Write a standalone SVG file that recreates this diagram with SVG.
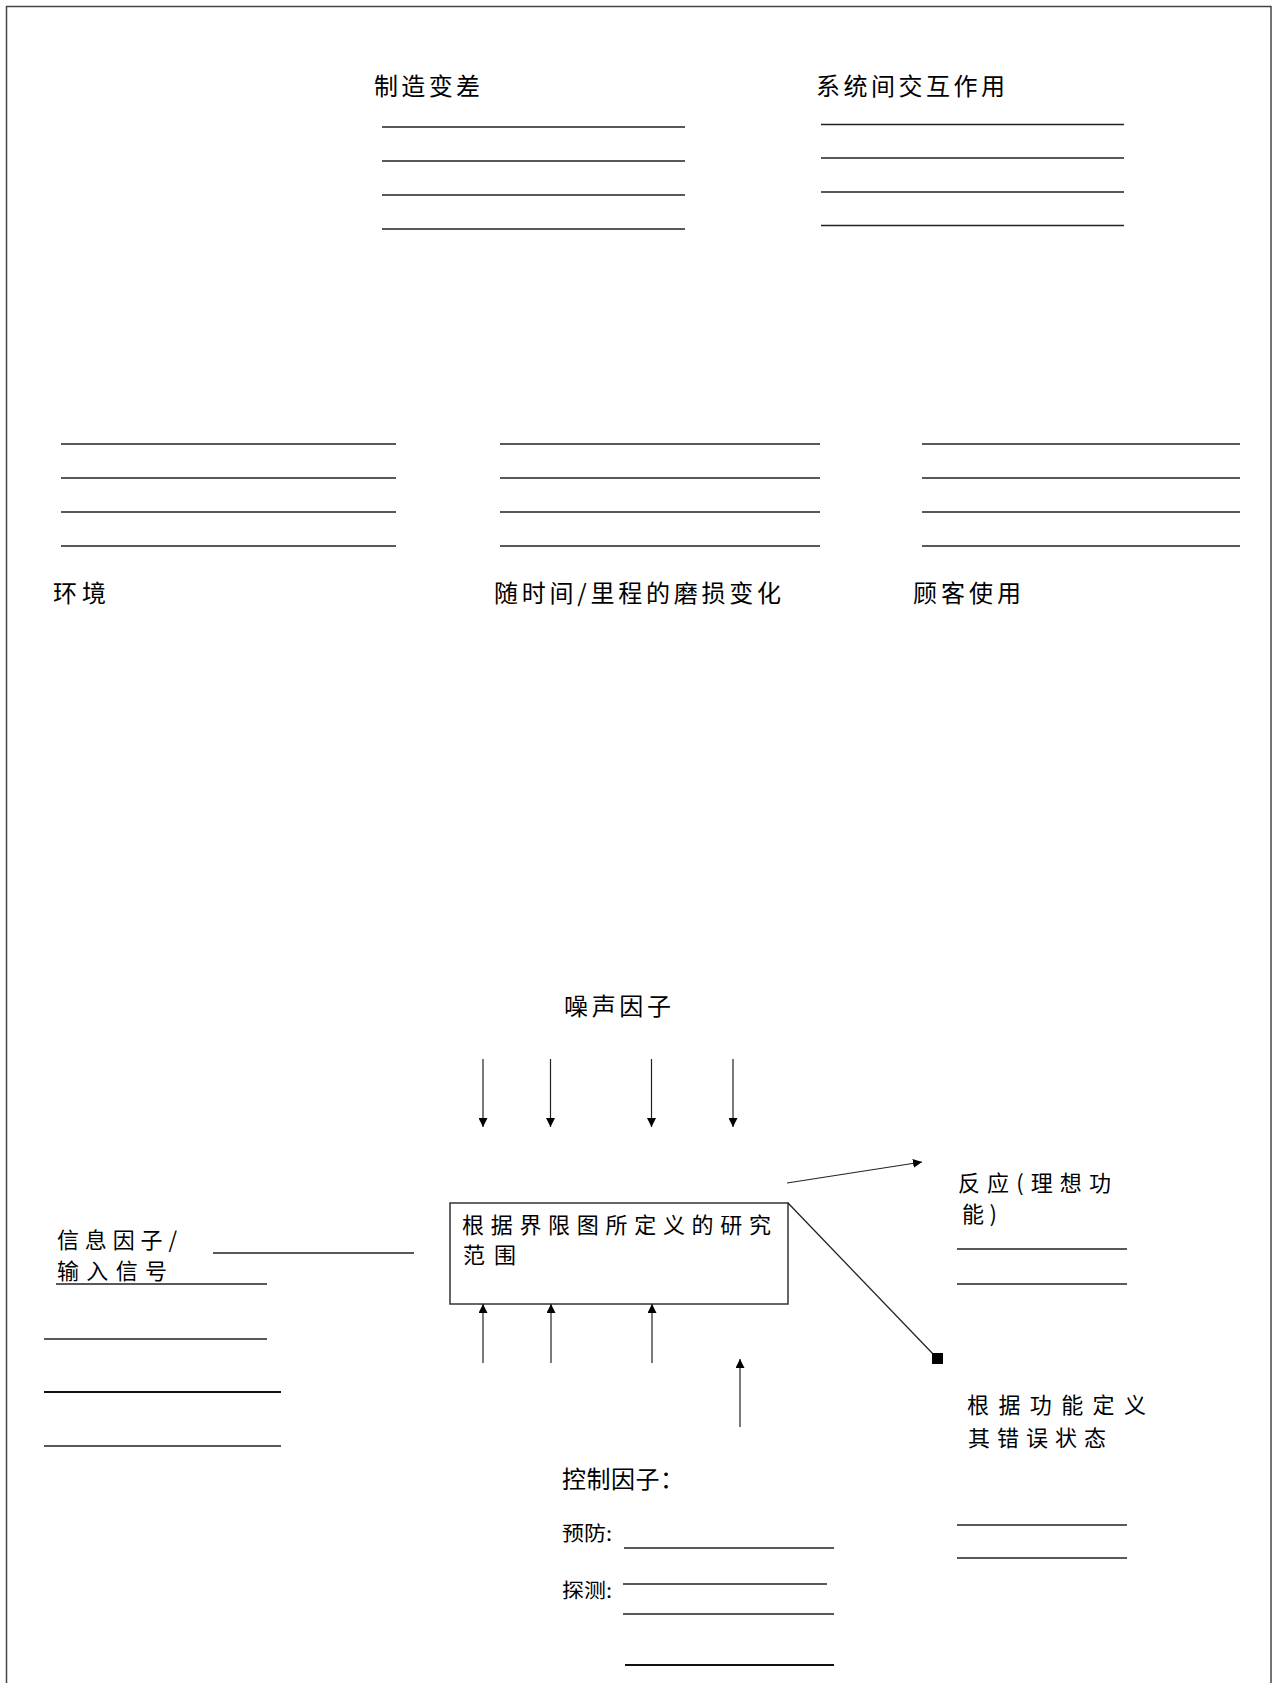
<svg xmlns="http://www.w3.org/2000/svg" width="1274" height="1683" viewBox="0 0 1274 1683">
<style>
.t{font-family:"Noto Sans CJK SC","Noto Sans CJK TC",sans-serif;font-size:24px;fill:#000}
.m{font-family:"Noto Sans CJK SC","Noto Sans CJK TC",sans-serif;font-size:22px;fill:#000}
.s{font-family:"Noto Sans CJK SC",sans-serif;font-size:20px;fill:#000}
.ln{stroke:#222;stroke-width:1.3;fill:none}
.lt{stroke:#111;stroke-width:2;fill:none}
.ar{stroke:#222;stroke-width:1.2;fill:none;marker-end:url(#ah)}
</style>
<defs>
<marker id="ah" viewBox="0 0 10 10" refX="10" refY="5" markerWidth="9" markerHeight="9" markerUnits="userSpaceOnUse" orient="auto">
<path d="M0,0 L10,5 L0,10 z" fill="#000"/>
</marker>
</defs>
<rect x="6.5" y="6.5" width="1264.5" height="1700" fill="none" stroke="#444" stroke-width="1.5"/>

<g id="manufacturing">
<text class="t" x="374" y="95" textLength="106" lengthAdjust="spacing">制造变差</text>
<line class="ln" x1="382" y1="127" x2="685" y2="127"/>
<line class="ln" x1="382" y1="161" x2="685" y2="161"/>
<line class="ln" x1="382" y1="195" x2="685" y2="195"/>
<line class="ln" x1="382" y1="229" x2="685" y2="229"/>
</g>

<g id="system-interaction">
<text class="t" x="816" y="95" textLength="189" lengthAdjust="spacing">系统间交互作用</text>
<line class="ln" x1="821" y1="124.5" x2="1124" y2="124.5"/>
<line class="ln" x1="821" y1="158" x2="1124" y2="158"/>
<line class="ln" x1="821" y1="192" x2="1124" y2="192"/>
<line class="ln" x1="821" y1="225.5" x2="1124" y2="225.5"/>
</g>

<g id="environment">
<line class="ln" x1="61" y1="444" x2="396" y2="444"/>
<line class="ln" x1="61" y1="478" x2="396" y2="478"/>
<line class="ln" x1="61" y1="512" x2="396" y2="512"/>
<line class="ln" x1="61" y1="546" x2="396" y2="546"/>
<text class="t" x="53" y="602" textLength="53" lengthAdjust="spacing">环境</text>
</g>

<g id="wear">
<line class="ln" x1="500" y1="444" x2="820" y2="444"/>
<line class="ln" x1="500" y1="478" x2="820" y2="478"/>
<line class="ln" x1="500" y1="512" x2="820" y2="512"/>
<line class="ln" x1="500" y1="546" x2="820" y2="546"/>
<text class="t" x="494" y="602" textLength="287" lengthAdjust="spacing">随时间/里程的磨损变化</text>
</g>

<g id="customer-use">
<line class="ln" x1="922" y1="444" x2="1240" y2="444"/>
<line class="ln" x1="922" y1="478" x2="1240" y2="478"/>
<line class="ln" x1="922" y1="512" x2="1240" y2="512"/>
<line class="ln" x1="922" y1="546" x2="1240" y2="546"/>
<text class="t" x="913" y="602" textLength="108" lengthAdjust="spacing">顾客使用</text>
</g>

<g id="noise-factors">
<text class="t" x="564" y="1015" textLength="107" lengthAdjust="spacing">噪声因子</text>
</g>

<g id="scope-box">
<rect x="450" y="1203" width="338" height="101" fill="none" stroke="#333" stroke-width="1.5"/>
<text class="m" x="462" y="1233" textLength="309" lengthAdjust="spacing">根据界限图所定义的研究</text>
<text class="m" x="463" y="1263" textLength="53" lengthAdjust="spacing">范围</text>
</g>

<g id="signal-factor">
<text class="m" x="57" y="1248" textLength="120" lengthAdjust="spacing">信息因子/</text>
<text class="m" x="57" y="1279" textLength="110" lengthAdjust="spacing">输入信号</text>
<line class="ln" x1="213" y1="1253" x2="414" y2="1253"/>
<line class="ln" x1="56" y1="1284" x2="267" y2="1284"/>
<line class="ln" x1="44" y1="1339" x2="267" y2="1339"/>
<line class="lt" x1="44" y1="1392" x2="281" y2="1392"/>
<line class="ln" x1="44" y1="1446" x2="281" y2="1446"/>
</g>

<g id="response">
<text class="m" x="958" y="1191" textLength="153" lengthAdjust="spacing">反应(理想功</text>
<text class="m" x="962" y="1222" textLength="35" lengthAdjust="spacing">能)</text>
<line class="ln" x1="957" y1="1249" x2="1127" y2="1249"/>
<line class="ln" x1="957" y1="1284" x2="1127" y2="1284"/>
</g>

<g id="failure-states">
<text class="m" x="967" y="1413" textLength="179" lengthAdjust="spacing">根据功能定义</text>
<text class="m" x="968" y="1446" textLength="138" lengthAdjust="spacing">其错误状态</text>
<line class="ln" x1="957" y1="1525" x2="1127" y2="1525"/>
<line class="ln" x1="957" y1="1558" x2="1127" y2="1558"/>
</g>

<g id="control-factors">
<text class="t" x="562" y="1488" textLength="122" lengthAdjust="spacing">控制因子：</text>
<text class="s" x="562" y="1541" textLength="50" lengthAdjust="spacingAndGlyphs">预防:</text>
<text class="s" x="562" y="1598" textLength="50" lengthAdjust="spacingAndGlyphs">探测:</text>
<line class="ln" x1="624" y1="1548" x2="834" y2="1548"/>
<line class="ln" x1="623" y1="1584" x2="827" y2="1584"/>
<line class="ln" x1="623" y1="1614" x2="834" y2="1614"/>
<line class="lt" x1="625" y1="1665" x2="834" y2="1665"/>
</g>

<g id="connectors">
<line class="ar" x1="483" y1="1059" x2="483" y2="1127"/>
<line class="ar" x1="550.5" y1="1059" x2="550.5" y2="1127"/>
<line class="ar" x1="651.5" y1="1059" x2="651.5" y2="1127"/>
<line class="ar" x1="733" y1="1059" x2="733" y2="1127"/>
<line class="ar" x1="483" y1="1363" x2="483" y2="1304"/>
<line class="ar" x1="551" y1="1363" x2="551" y2="1304"/>
<line class="ar" x1="652" y1="1363" x2="652" y2="1304"/>
<line class="ar" x1="740" y1="1427" x2="740" y2="1359"/>
<line class="ar" x1="787" y1="1183" x2="922" y2="1162"/>
<line class="ln" x1="788" y1="1203" x2="934" y2="1355"/>
<rect x="932" y="1353" width="11" height="11" fill="#000"/>
</g>
</svg>
